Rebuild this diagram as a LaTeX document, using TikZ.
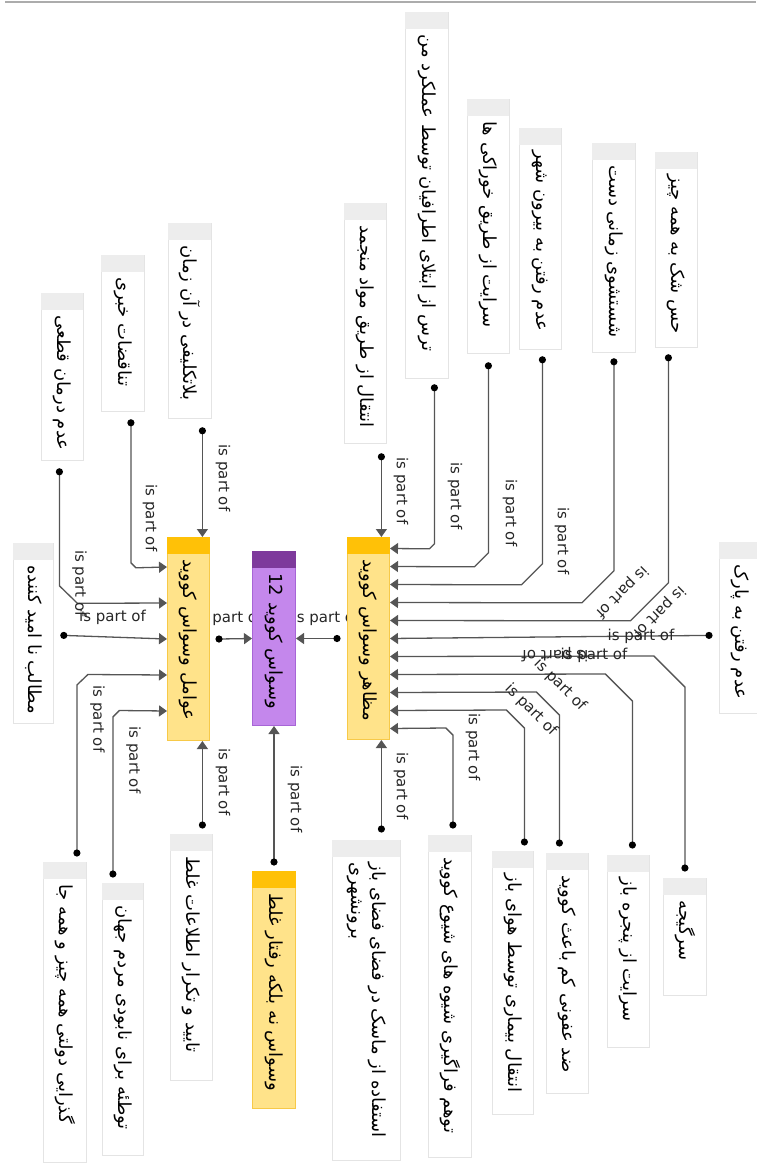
\documentclass[tikz,border=0pt]{standalone}
\usepackage{fontspec}
\setmainfont{DejaVu Sans}
\newfontfamily\fa[Script=Arabic]{DejaVu Sans}
\TeXXeTstate=1
\usepackage{graphicx}
\usetikzlibrary{arrows.meta}

\definecolor{leafline}{HTML}{E4E4E4}
\definecolor{leafhdr}{HTML}{EDEDED}
\definecolor{yelfill}{HTML}{FFE38A}
\definecolor{yelhdr}{HTML}{FFC107}
\definecolor{yelline}{HTML}{F7C948}
\definecolor{purfill}{HTML}{C487EC}
\definecolor{purhdr}{HTML}{7E3A9C}
\definecolor{purline}{HTML}{A765D6}
\definecolor{linkgray}{HTML}{555555}

\pgfdeclarelayer{bg}
\pgfsetlayers{bg,main}

% rotated persian text, starting just under the header
\newcommand{\fatxt}[2]{\rotatebox{-90}{\makebox[#1][l]{\hspace{22pt}\fa #2}}}

\begin{document}
\begin{tikzpicture}[x=1pt,y=-1pt,
    leaf/.style={draw=leafline, fill=white, line width=0.8pt, anchor=north west,
        inner sep=0pt, minimum width=42pt, font=\fontsize{18}{21}\selectfont},
    yel/.style={leaf, draw=yelline, fill=yelfill, line width=1pt},
    pur/.style={leaf, draw=purline, fill=purfill, line width=1pt},
    link/.style={draw=linkgray, line width=1.3pt, -{Triangle[length=8pt,width=11pt]}},
    rel/.style={font=\fontsize{15}{18}\selectfont, text=black!85, inner sep=0pt}]

    \useasboundingbox (0,0) rectangle (756,1167);
    \draw[gray!65, line width=2pt] (5,2) -- (756,2);

    % Core nodes
    \node[pur, minimum width=43pt] (M) at (252,551) {\fatxt{174pt}{\beginR وسواس کووید \beginL12\endL\endR}};
    \node[yel] (L) at (167,537) {\fatxt{203pt}{\beginR عوامل وسواس کووید\endR}};
    \node[yel] (R) at (347,537) {\fatxt{202pt}{\beginR مظاهر وسواس کووید\endR}};
    \node[yel, minimum width=43pt] (B) at (252,871) {\fatxt{237pt}{\beginR وسواس نه بلکه رفتار غلط\endR}};

    % Causes
    \node[leaf, minimum width=43pt] (a1) at (168,223) {\fatxt{195pt}{\beginR بلاتکلیفی در آن زمان\endR}};
    \node[leaf, minimum width=43pt] (a2) at (101,255) {\fatxt{156pt}{\beginR تناقضات خبری\endR}};
    \node[leaf] (a3) at (41,293) {\fatxt{167pt}{\beginR عدم درمان قطعی\endR}};
    \node[leaf, minimum width=40pt] (a4) at (13,543) {\fatxt{180pt}{\beginR مطالب نا امید کننده\endR}};
    \node[leaf, minimum width=43pt] (a5) at (43,862) {\fatxt{300pt}{\beginR گذرایی دولتی همه چیز و همه جا\endR}};
    \node[leaf, minimum width=41pt] (a6) at (102,883) {\fatxt{272pt}{\beginR توطئه برای نابودی مردم جهان\endR}};
    \node[leaf] (a7) at (170,834) {\fatxt{246pt}{\beginR تایید و تکرار اطلاعات غلط\endR}};

    % Signs
    \node[leaf] (b1) at (344,203) {\fatxt{240pt}{\beginR انتقال از طریق مواد منجمد\endR}};
    \node[leaf, minimum width=43pt] (b2) at (405,12) {\fatxt{366pt}{\beginR ترس از ابتلای اطرافیان توسط عملکرد من\endR}};
    \node[leaf] (b3) at (467,99) {\fatxt{254pt}{\beginR سرایت از طریق خوراکی ها\endR}};
    \node[leaf] (b4) at (519,128) {\fatxt{221pt}{\beginR عدم رفتن به بیرون شهر\endR}};
    \node[leaf, minimum width=43pt] (b5) at (592,143) {\fatxt{209pt}{\beginR شستشوی زمانی دست\endR}};
    \node[leaf] (b6) at (655,152) {\fatxt{195pt}{\beginR حس شک به همه چیز\endR}};
    \node[leaf] (b7) at (719,542) {\fatxt{171pt}{\beginR عدم رفتن به پارک\endR}};
    \node[leaf, minimum width=43pt] (b8) at (663,878) {\fatxt{117pt}{\beginR سرگیجه\endR}};
    \node[leaf] (b9) at (607,855) {\fatxt{192pt}{\beginR سرایت از پنجره باز\endR}};
    \node[leaf] (b10) at (546,853) {\fatxt{240pt}{\beginR ضد عفونی کم باعث کووید\endR}};
    \node[leaf, minimum width=41pt] (b11) at (492,851) {\fatxt{263pt}{\beginR انتقال بیماری توسط هوای باز\endR}};
    \node[leaf, minimum width=43pt] (b12) at (428,835) {\fatxt{322pt}{\beginR توهم فراگیری شیوه های شیوع کووید\endR}};
    \node[leaf, minimum width=68pt] (b13) at (332,840) {\rotatebox{-90}{\parbox{320pt}{\leftskip=22pt\fa
        \beginR استفاده از ماسک در فضای فضای باز\endR\\\beginR برونشهری\endR}}};

    % Headers
    \foreach \n in {a1,a2,a3,a4,a5,a6,a7,b1,b2,b3,b4,b5,b6,b7,b8,b9,b10,b11,b12,b13}
        \fill[leafhdr] ([shift={(0.4pt,-0.4pt)}]\n.north west) rectangle ([shift={(-0.4pt,-17pt)}]\n.north east);
    \foreach \n in {L,R,B}
        \fill[yelhdr] (\n.north west) rectangle ([yshift=-17pt]\n.north east);
    \fill[purhdr] (M.north west) rectangle ([yshift=-17pt]M.north east);

    % Dots
    \coordinate (a1d) at ([xshift=12.5pt,yshift=-12pt]a1.south);
    \coordinate (a2d) at ([xshift=8pt,yshift=-11pt]a2.south);
    \coordinate (a3d) at ([xshift=-3pt,yshift=-11pt]a3.south);
    \coordinate (a4d) at ([xshift=10pt,yshift=-2pt]a4.east);
    \coordinate (a5d) at ([xshift=12pt,yshift=9pt]a5.north);
    \coordinate (a6d) at ([xshift=-10pt,yshift=9pt]a6.north);
    \coordinate (a7d) at ([xshift=11pt,yshift=9pt]a7.north);
    \coordinate (b1d) at ([xshift=16pt,yshift=-13pt]b1.south);
    \coordinate (b2d) at ([xshift=7.5pt,yshift=-9pt]b2.south);
    \coordinate (b3d) at ([yshift=-12pt]b3.south);
    \coordinate (b4d) at ([xshift=2pt,yshift=-10pt]b4.south);
    \coordinate (b5d) at ([yshift=-9pt]b5.south);
    \coordinate (b6d) at ([xshift=-8pt,yshift=-10pt]b6.south);
    \coordinate (b7d) at ([xshift=-10pt,yshift=-7.5pt]b7.west);
    \coordinate (b8d) at ([yshift=10pt]b8.north);
    \coordinate (b9d) at ([xshift=4pt,yshift=10pt]b9.north);
    \coordinate (b10d) at ([xshift=-8pt,yshift=10pt]b10.north);
    \coordinate (b11d) at ([xshift=11.5pt,yshift=9pt]b11.north);
    \coordinate (b12d) at ([xshift=3pt,yshift=10pt]b12.north);
    \coordinate (b13d) at ([xshift=15pt,yshift=11pt]b13.north);
    \coordinate (Ld) at ([xshift=9pt]L.east);
    \coordinate (Rd) at ([xshift=-10pt]R.west);
    \coordinate (Bd) at ([yshift=9pt]B.north);

    \begin{pgfonlayer}{bg}
    % Edges into causes
    \draw[link] (a1d) -- (a1d |- L.north);
    \draw[link] (a2d) -- ++(0,140) -- ++(5,5) -- ([yshift=72pt]L.west);
    \draw[link] (a3d) -- ++(0,114) -- ++(18,17.5) -- ([yshift=36pt]L.west);
    \draw[link] (a4d) -- (L.west);
    \draw[link] (a5d) -- ++(0,-168) -- ++(11,-10.5) -- ([yshift=-36pt]L.west);
    \draw[link] (a6d) -- ++(0,-157) -- ++(6.5,-6.5) -- ([yshift=-72pt]L.west);
    \draw[link] (a7d) -- (a7d |- L.south);

    % Edges into signs
    \draw[link] (b1d) -- (b1d |- R.north);
    \draw[link] (b2d) -- ++(0,156) -- ++(-5,5) -- ([yshift=90pt]R.east);
    \draw[link] (b3d) -- ++(0,187) -- ++(-14,14) -- ([yshift=72pt]R.east);
    \draw[link] (b4d) -- ++(0,204) -- ++(-21,21) -- ([yshift=54pt]R.east);
    \draw[link] (b5d) -- ++(0,209) -- ++(-32,32) -- ([yshift=36pt]R.east);
    \draw[link] (b6d) -- ++(0,225) -- ++(-38,38) -- ([yshift=18pt]R.east);
    \draw[link] (b7d) -- (R.east);
    \draw[link] (b8d) -- ++(0,-181) -- ++(-31,-31) -- ([yshift=-18pt]R.east);
    \draw[link] (b9d) -- ++(0,-144) -- ++(-27,-27) -- ([yshift=-36pt]R.east);
    \draw[link] (b10d) -- ++(0,-128) -- ++(-23,-23) -- ([yshift=-54pt]R.east);
    \draw[link] (b11d) -- ++(0,-114) -- ++(-18,-18) -- ([yshift=-72pt]R.east);
    \draw[link] (b12d) -- ++(0,-90) -- ++(-7,-7) -- ([yshift=-90pt]R.east);
    \draw[link] (b13d) -- (b13d |- R.south);

    % Edges into the core
    \draw[link] (Ld) -- (M.west);
    \draw[link] (Rd) -- (M.east);
    \draw[link] (Bd) -- (Bd |- M.south);

    % Dots
    \foreach \d in {a1d,a2d,a3d,a4d,a5d,a6d,a7d,b1d,b2d,b3d,b4d,b5d,b6d,b7d,b8d,b9d,b10d,b11d,b12d,b13d,Ld,Rd,Bd}
        \fill (\d) circle (3.6pt);

    % Labels
    \node[rel, rotate=-90] (la1) at (223,478) {is part of};
    \node[rel, rotate=-90] (la2) at (150,518) {is part of};
    \node[rel, rotate=-90] (la3) at (79.5,583.5) {is part of};
    \node[rel] (la4) at (112.5,617) {is part of};
    \node[rel, rotate=-90] (la5) at (97.5,719) {is part of};
    \node[rel, rotate=-90] (la6) at (133.5,760) {is part of};
    \node[rel, rotate=-90] (la7) at (223,782) {is part of};
    \node[rel] (lL) at (229,618) {is part of};
    \node[rel] (lR) at (326,618) {is part of};
    \node[rel, rotate=-90] (lB) at (295,799) {is part of};
    \node[rel, rotate=-90] (lb1) at (401,491) {is part of};
    \node[rel, rotate=-90] (lb2) at (455,496) {is part of};
    \node[rel, rotate=-90] (lb3) at (510,513) {is part of};
    \node[rel, rotate=-90] (lb4) at (562,541) {is part of};
    \node[rel, rotate=-135] (lb5) at (621.7,591.7) {is part of};
    \node[rel, rotate=-135] (lb6) at (659,612) {is part of};
    \node[rel] (lb7) at (641,636) {is part of};
    \node[rel] (lb8) at (594,655) {is part of};
    \node[rel, rotate=180] (lb9) at (555,655) {is part of};
    \node[rel, rotate=-45] (lb10) at (560,685) {is part of};
    \node[rel, rotate=-45] (lb11) at (531,710) {is part of};
    \node[rel, rotate=-90] (lb12) at (473,747) {is part of};
    \node[rel, rotate=-90] (lb13) at (401,786) {is part of};
    \end{pgfonlayer}
\end{tikzpicture}
\end{document}
